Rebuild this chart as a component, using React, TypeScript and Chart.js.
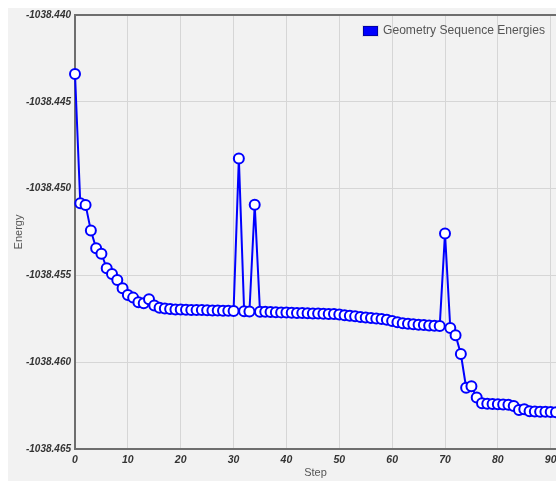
import React, { useEffect, useRef } from "react";
import { Chart, registerables } from "chart.js";

Chart.register(...registerables);

const steps: number[] = Array.from({ length: 92 }, (_, i) => i);
const energies: number[] = [
  -1038.4434, -1038.45085, -1038.45094, -1038.45242, -1038.45344, -1038.45375, -1038.45459, -1038.45492,
  -1038.45526, -1038.45574, -1038.45613, -1038.45628, -1038.45655, -1038.45661, -1038.45638, -1038.45674,
  -1038.45686, -1038.45691, -1038.45694, -1038.45696, -1038.45697, -1038.45698, -1038.45699, -1038.457,
  -1038.457, -1038.45701, -1038.45702, -1038.45702, -1038.45703, -1038.45704, -1038.45705, -1038.44826,
  -1038.45707, -1038.45708, -1038.45093, -1038.45709, -1038.4571, -1038.45711, -1038.45712, -1038.45713,
  -1038.45714, -1038.45715, -1038.45716, -1038.45717, -1038.45718, -1038.45719, -1038.4572, -1038.45721,
  -1038.45722, -1038.45723, -1038.45725, -1038.45729, -1038.45733, -1038.45736, -1038.45739, -1038.45742,
  -1038.45745, -1038.45748, -1038.45751, -1038.45755, -1038.45762, -1038.4577, -1038.45776, -1038.45779,
  -1038.45782, -1038.45784, -1038.45786, -1038.45788, -1038.4579, -1038.45792, -1038.45258, -1038.45803,
  -1038.45845, -1038.45953, -1038.46147, -1038.46139, -1038.46204, -1038.46237, -1038.4624, -1038.46241,
  -1038.46242, -1038.46243, -1038.46245, -1038.46252, -1038.46275, -1038.46271, -1038.46282, -1038.46284,
  -1038.46285, -1038.46286, -1038.46287, -1038.46288,
];
const yTicks: number[] = [-1038.465, -1038.46, -1038.455, -1038.45, -1038.445, -1038.44];
const xTicks: number[] = [0, 10, 20, 30, 40, 50, 60, 70, 80, 90];
const seriesLabel = "Geometry Sequence Energies";
const xTitle = "Step";
const yTitle = "Energy";

const FONT = "Arial, 'Liberation Sans', sans-serif";

const frameAndLegend = {
  id: "frameAndLegend",
  afterDraw(chart: any) {
    const { ctx, chartArea } = chart;
    ctx.save();
    ctx.strokeStyle = "#6e6e6e";
    ctx.lineWidth = 2;
    ctx.beginPath();
    ctx.moveTo(chartArea.left, chartArea.top);
    ctx.lineTo(chart.width, chartArea.top);
    ctx.stroke();
    const bx = 355, by = 18;
    ctx.fillStyle = "#e0e0e0";
    ctx.fillRect(bx - 1, by - 1, 17, 12);
    ctx.fillStyle = "#0000ff";
    ctx.fillRect(bx, by, 15, 10);
    ctx.strokeStyle = "#0000aa";
    ctx.lineWidth = 1;
    ctx.strokeRect(bx + 0.5, by + 0.5, 14, 9);
    ctx.fillStyle = "#555555";
    ctx.font = "12.1px " + FONT;
    ctx.textBaseline = "middle";
    ctx.textAlign = "left";
    ctx.fillText(seriesLabel, bx + 20, by + 5);
    ctx.restore();
  },
};

export default function App() {
  const ref = useRef<HTMLCanvasElement | null>(null);
  useEffect(() => {
    document.documentElement.style.overflow = "hidden";
    document.body.style.overflow = "hidden";
    if (!ref.current) return;
    const chart = new Chart(ref.current, {
      type: "line",
      data: {
        labels: steps,
        datasets: [
          {
            label: seriesLabel,
            data: steps.map((s, i) => ({ x: s, y: energies[i] })),
            borderColor: "#0000ff",
            borderWidth: 2,
            backgroundColor: "#ffffff",
            pointBackgroundColor: "#ffffff",
            pointBorderColor: "#0000ff",
            pointBorderWidth: 2,
            pointRadius: 5,
            tension: 0,
            clip: false as any,
          },
        ],
      },
      options: {
        animation: false,
        responsive: false,
        maintainAspectRatio: false,
        layout: { padding: { left: 0, top: 7, right: 12, bottom: 0 } },
        plugins: { legend: { display: false }, tooltip: { enabled: false } },
        scales: {
          x: {
            type: "linear",
            min: 0,
            max: 91,
            afterFit: (s: any) => {
              s.height = 32;
              s.paddingLeft = 0;
              s.paddingRight = 0;
            },
            afterBuildTicks: (s: any) => {
              s.ticks = xTicks.map((v) => ({ value: v }));
            },
            border: { display: true, color: "#6e6e6e", width: 2 },
            grid: { color: "#d6d6d6", lineWidth: 1, drawTicks: false },
            ticks: {
              padding: 5,
              color: "#333333",
              font: { family: FONT, size: 10.5, style: "italic", weight: "bold" },
              maxRotation: 0,
            },
            title: {
              display: true,
              text: xTitle,
              color: "#555555",
              font: { family: FONT, size: 11 },
              padding: { top: 0, bottom: 1 },
            },
          },
          y: {
            type: "linear",
            min: -1038.465,
            max: -1038.44,
            afterFit: (s: any) => {
              s.width = 67;
              s.paddingTop = 0;
              s.paddingBottom = 0;
            },
            afterBuildTicks: (s: any) => {
              s.ticks = yTicks.map((v) => ({ value: v }));
            },
            border: { display: true, color: "#6e6e6e", width: 2 },
            grid: { color: "#d6d6d6", lineWidth: 1, drawTicks: false },
            ticks: {
              padding: 4,
              color: "#333333",
              font: { family: FONT, size: 10, style: "italic", weight: "bold" },
              callback: (v: any) => Number(v).toFixed(3),
            },
            title: {
              display: true,
              text: yTitle,
              color: "#555555",
              font: { family: FONT, size: 11 },
              padding: { top: 4, bottom: 0 },
            },
          },
        },
      },
      plugins: [frameAndLegend],
    });
    return () => chart.destroy();
  }, []);
  return (
    <div
      style={{
        position: "fixed",
        left: 8,
        top: 8,
        width: 560,
        height: 473,
        overflow: "hidden",
        background: "#f2f2f2",
      }}
    >
      <canvas ref={ref} width={560} height={473} style={{ display: "block" }} />
    </div>
  );
}
